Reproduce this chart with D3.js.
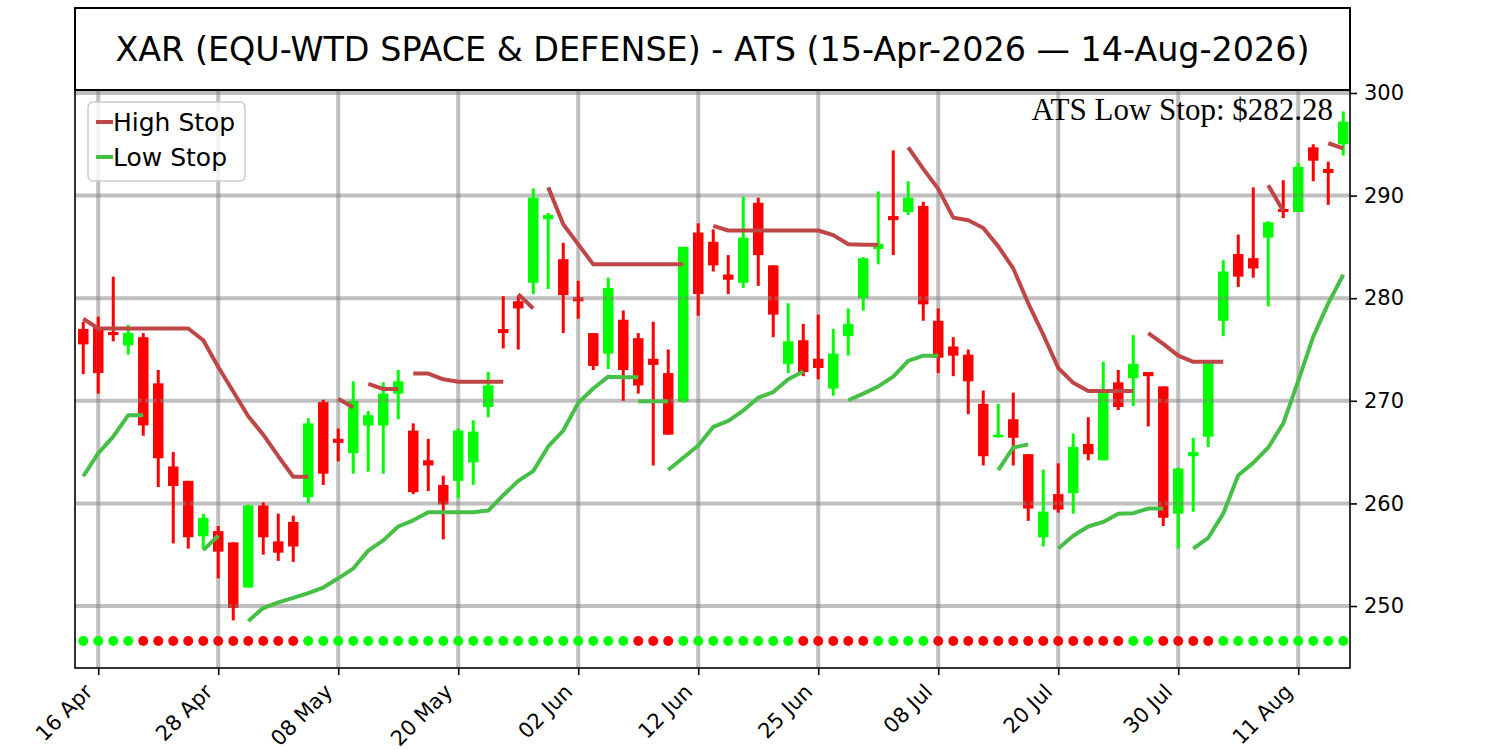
<!DOCTYPE html>
<html>
<head>
<meta charset="utf-8">
<script src="https://cdn.jsdelivr.net/npm/d3@7"></script>
<style>
body{margin:0;background:#fff;}
text{font-family:"DejaVu Sans",sans-serif;}
</style>
</head>
<body>
<svg id="chart" width="1500" height="750"></svg>
<script>
const title = "XAR (EQU-WTD SPACE & DEFENSE) - ATS (15-Apr-2026 \u2014 14-Aug-2026)";
const firstDay = "2026-04-15", sessions = 85;
const holidays = ["2026-05-25","2026-06-19","2026-07-03"];
const tickLabels = ["16 Apr","28 Apr","08 May","20 May","02 Jun","12 Jun","25 Jun","08 Jul","20 Jul","30 Jul","11 Aug"];
const yTicks = [250,260,270,280,290,300];

const opens = [277.0,277.2,276.7,275.4,276.2,271.7,263.6,262.2,256.8,257.3,
 256.2,251.8,259.8,256.3,258.2,260.6,269.9,266.3,264.9,267.6,
 267.6,270.7,267.1,264.2,261.8,262.2,264.0,269.4,277.0,279.7,
 281.5,287.7,283.8,280.1,276.6,274.6,277.9,276.1,274.1,272.7,
 269.9,286.4,285.5,282.3,281.5,289.3,283.2,273.6,275.9,274.1,
 271.2,276.3,280.0,284.8,288.0,288.4,289.0,277.8,275.3,274.5,
 269.7,266.45,268.2,264.8,256.7,260.9,261.0,265.8,264.2,271.8,
 272.2,272.8,271.4,259.0,264.6,266.5,277.8,284.3,283.9,285.9,
 288.7,288.4,294.7,292.6,295.0];
const highs = [277.7,278.2,282.1,277.4,276.6,273.0,265.0,262.2,259.0,257.8,
 256.2,259.9,260.1,259.0,258.8,268.3,270.1,267.3,271.9,269.0,
 271.8,273.0,267.8,266.3,262.7,267.3,268.1,272.8,280.2,280.2,
 290.7,288.3,285.4,281.7,276.6,282.0,278.8,276.6,277.7,275.0,
 285.0,287.3,286.7,284.2,289.9,289.8,283.2,279.5,277.5,278.4,
 277.0,279.0,284.0,290.4,294.4,291.4,289.4,279.0,276.2,275.0,
 271.0,269.7,270.8,264.8,263.3,263.9,266.8,268.4,273.8,273.0,
 276.4,272.8,271.4,263.5,266.4,273.9,283.7,286.2,290.8,287.5,
 291.5,293.2,295.0,293.3,298.2];
const lows = [272.6,270.7,275.8,274.5,266.6,261.6,256.1,255.6,255.6,252.7,
 248.6,251.8,255.0,254.4,254.3,260.0,261.8,264.1,262.9,263.1,
 262.9,268.2,260.9,261.2,256.5,260.5,261.8,268.4,275.1,275.0,
 280.4,280.9,276.6,278.0,273.0,273.1,270.0,270.7,263.7,266.7,
 269.8,278.3,282.6,280.4,281.0,281.2,276.2,272.7,272.4,272.1,
 270.5,274.4,278.8,283.3,284.2,288.1,277.8,272.7,272.4,268.7,
 263.7,266.4,263.7,258.3,255.8,259.1,259.0,264.2,264.2,269.1,
 269.5,267.5,257.8,255.6,259.2,265.5,276.3,281.1,282.0,279.2,
 287.8,288.4,291.4,289.1,293.9];
const closes = [275.5,272.7,276.4,276.6,267.6,264.4,261.7,256.7,258.6,255.3,
 249.8,259.8,256.7,255.2,255.8,267.8,262.9,265.9,270.0,268.6,
 270.7,271.9,261.1,263.7,259.9,267.1,267.0,271.5,276.6,279.0,
 289.8,288.1,280.3,279.7,273.4,281.0,273.0,271.5,273.5,266.7,
 285.0,280.4,283.2,281.8,285.9,284.2,278.4,275.8,272.8,273.2,
 274.6,277.5,283.9,285.3,287.6,289.8,279.4,274.2,274.4,271.9,
 264.6,266.7,266.4,259.5,259.2,259.4,265.5,264.8,270.9,269.4,
 273.6,272.4,258.6,263.4,265.0,273.7,282.6,282.1,282.9,287.4,
 288.4,292.8,293.4,292.2,297.2];

// 1 = up trend (green dot), 0 = down trend (red dot)
const trendUp = [1,1,1,1,0,0,0,0,0,0, 0,0,0,0,0,1,1,1,1,1, 1,1,1,1,1,1,1,1,1,1,
 1,1,1,1,1,1,1,0,0,0, 1,1,1,1,1,1,1,1,0,0, 0,0,0,1,1,1,1,0,0,0,
 0,0,0,0,0,0,0,0,0,0, 1,1,0,0,0,0,1,1,1,1, 1,1,1,1,1];
const dotLevel = 246.6;

// stop segments: [first session index, values]
const highStop = [
 [0,[278.0,277.05,277.05,277.05,277.05,277.05,277.05,277.05,275.9,273.3,270.9,268.5,266.7,264.6,262.6,262.6]],
 [17,[270.2,269.35]],
 [19,[271.65,271.15,271.15]],
 [22,[272.65,272.65,272.1,271.85,271.85,271.85,271.85]],
 [29,[280.4,279.0]],
 [31,[290.8,287.2,285.25,283.3,283.3,283.3,283.3,283.3,283.3,283.3]],
 [42,[287.05,286.6,286.6,286.6,286.6,286.6,286.6,286.6,286.15,285.25,285.2,285.2]],
 [55,[294.7,292.6,290.65,287.85,287.6,286.85,285.05,282.9,279.5,276.45,273.2,271.75,270.95,270.95,270.95,270.95]],
 [71,[276.6,275.55,274.4,273.8,273.8,273.8]],
 [79,[291.0,288.5]],
 [83,[295.1,294.6]]
];
const lowStop = [
 [0,[262.65,264.9,266.5,268.6,268.6]],
 [8,[255.45,256.85]],
 [11,[248.55,249.8,250.35,250.8,251.25,251.8,252.7,253.65,255.4,256.4,257.75,258.35,259.15,259.15,259.15,259.15,259.3,260.8,262.2,263.15,265.55,267.1,269.8,271.2,272.35,272.3,272.3]],
 [37,[269.95,269.95,269.95]],
 [39,[263.25,264.45,265.65,267.45,268.05,269.05,270.3,270.85,272.1,272.85]],
 [51,[270.05,270.7,271.4,272.35,273.9,274.4,274.4]],
 [61,[263.25,265.45,265.75]],
 [65,[255.6,256.85,257.75,258.2,259.0,259.05,259.5,259.5]],
 [74,[255.6,256.65,259.0,262.75,263.95,265.45,267.8,271.95,276.25,279.5,282.28]]
];

// trading calendar
const parse = d3.timeParse("%Y-%m-%d"), fmtIso = d3.timeFormat("%Y-%m-%d"), fmtTick = d3.timeFormat("%d %b");
const dates = [];
for (let d = parse(firstDay); dates.length < sessions; d = d3.timeDay.offset(d, 1)) {
    if (d.getDay() === 0 || d.getDay() === 6 || holidays.includes(fmtIso(d))) continue;
    dates.push(d);
}
const tickIdx = tickLabels.map(l => dates.findIndex(d => fmtTick(d) === l));

const plot = {left:75, right:1350, top:90, bottom:668};
const colUp = "#00ff00", colDown = "#ff0000", colHigh = "#bf4646", colLow = "#46bf46";

const svg = d3.select("#chart");
const x = d3.scaleLinear().domain([-0.55, sessions - 0.55]).range([plot.left, plot.right]);
const y = d3.scaleLinear().domain([243.96, 300.29]).range([plot.bottom, plot.top]);
const bw = (x(1) - x(0)) * 0.7;

const candles = d3.range(sessions).map(i => ({i, o:opens[i], h:highs[i], l:lows[i], c:closes[i]}));

svg.append("clipPath").attr("id","clip").append("rect")
    .attr("x",plot.left).attr("y",plot.top).attr("width",plot.right-plot.left).attr("height",plot.bottom-plot.top);
const g = svg.append("g").attr("clip-path","url(#clip)");

// bodies
g.append("g").selectAll("rect").data(candles).join("rect")
    .attr("x", d => x(d.i) - bw/2)
    .attr("y", d => y(Math.max(d.o, d.c)))
    .attr("width", bw)
    .attr("height", d => Math.max(1.5, Math.abs(y(d.o) - y(d.c))))
    .attr("fill", d => d.c >= d.o ? colUp : colDown);

// grid
const grid = g.append("g").attr("stroke","#808080").attr("stroke-opacity",0.5).attr("stroke-width",4);
grid.selectAll("line.h").data(yTicks).join("line").attr("class","h")
    .attr("x1",plot.left).attr("x2",plot.right).attr("y1",d=>y(d)).attr("y2",d=>y(d));
grid.selectAll("line.v").data(tickIdx).join("line").attr("class","v")
    .attr("x1",d=>x(d)).attr("x2",d=>x(d)).attr("y1",plot.top).attr("y2",plot.bottom);

// wicks
g.append("g").selectAll("line").data(candles).join("line")
    .attr("x1", d => x(d.i)).attr("x2", d => x(d.i))
    .attr("y1", d => y(d.h)).attr("y2", d => y(d.l))
    .attr("stroke", d => d.c >= d.o ? colUp : colDown)
    .attr("stroke-width", 3);

// stop lines
const line = d3.line().x(d => x(d[0])).y(d => y(d[1]));
function drawStops(segs, color){
    g.append("g").selectAll("path").data(segs).join("path")
        .attr("d", s => line(s[1].map((v,k) => [s[0]+k, v])))
        .attr("fill","none").attr("stroke",color).attr("stroke-width",4)
        .attr("stroke-linejoin","round");
}
drawStops(highStop, colHigh);
drawStops(lowStop, colLow);

// trend dots
g.append("g").selectAll("circle").data(trendUp).join("circle")
    .attr("cx",(d,i)=>x(i)).attr("cy",y(dotLevel)).attr("r",5)
    .attr("fill",d => d ? colUp : colDown);

// frame
svg.append("rect").attr("x",plot.left).attr("y",plot.top)
    .attr("width",plot.right-plot.left).attr("height",plot.bottom-plot.top)
    .attr("fill","none").attr("stroke","#000").attr("stroke-width",1.6);

// y axis on the right
const yAxis = svg.append("g").attr("transform",`translate(${plot.right},0)`)
    .call(d3.axisRight(y).tickValues(yTicks).tickFormat(d3.format("d")).tickSize(7).tickPadding(7));
yAxis.select(".domain").remove();
yAxis.selectAll("line").attr("stroke","#000").attr("stroke-width",1.6);
yAxis.selectAll("text").attr("font-size",21).attr("fill","#000").style("font-family","DejaVu Sans");

// x axis
const xAxis = svg.append("g").attr("transform",`translate(0,${plot.bottom})`)
    .call(d3.axisBottom(x).tickValues(tickIdx).tickFormat((d,k) => tickLabels[k]).tickSize(7));
xAxis.select(".domain").remove();
xAxis.selectAll("line").attr("stroke","#000").attr("stroke-width",1.6);
xAxis.selectAll("text")
    .attr("font-size",21).attr("fill","#000").style("font-family","DejaVu Sans")
    .attr("text-anchor","end").attr("dy",null).attr("y",null)
    .attr("transform","translate(-5,25) rotate(-45)");

// title box
svg.append("rect").attr("x",plot.left).attr("y",8).attr("width",plot.right-plot.left).attr("height",plot.top-8)
    .attr("fill","#fff").attr("stroke","#000").attr("stroke-width",2);
svg.append("text").attr("x",(plot.left+plot.right)/2).attr("y",61)
    .attr("text-anchor","middle").attr("font-size",33.4).text(title);

// last low stop annotation
const lastLow = lowStop[lowStop.length-1][1].slice(-1)[0];
svg.append("text").attr("x",1333).attr("y",120).attr("text-anchor","end")
    .style("font-family","'Liberation Serif',serif").attr("font-size",31)
    .text(`ATS Low Stop: $${lastLow.toFixed(2)}`);

// legend
const lg = svg.append("g").attr("transform","translate(88,102)");
lg.append("rect").attr("width",157).attr("height",79).attr("rx",5)
    .attr("fill","#fff").attr("fill-opacity",0.8).attr("stroke","#cccccc").attr("stroke-width",1.5);
[["High Stop",colHigh],["Low Stop",colLow]].forEach((e,k) => {
    lg.append("line").attr("x1",8).attr("x2",25).attr("y1",20+35*k).attr("y2",20+35*k)
        .attr("stroke",e[1]).attr("stroke-width",4);
    lg.append("text").attr("x",25).attr("y",29+35*k).attr("font-size",25).text(e[0]);
});
</script>
</body>
</html>
